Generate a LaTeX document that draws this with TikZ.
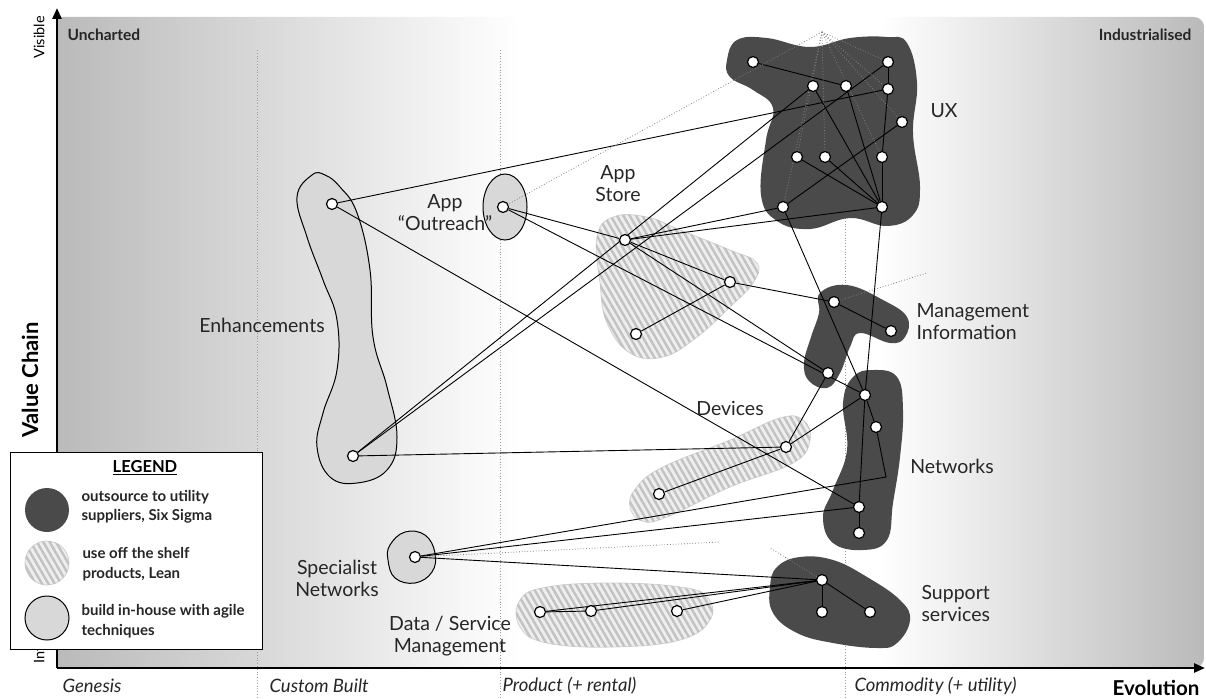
\documentclass[tikz,border=0pt]{standalone}
\usepackage{fontspec}
\setmainfont{Lato}
\usepackage{tikz}
\usetikzlibrary{arrows.meta, patterns.meta}
\definecolor{my_dark}{HTML}{4A4A4A}
\definecolor{my_build}{HTML}{D8D8D8}
\definecolor{my_hatchbg}{HTML}{EEEEEE}
\definecolor{my_hatch}{HTML}{C2C2C2}
\definecolor{my_hatchedge}{HTML}{D2D2D2}
\definecolor{my_shade}{HTML}{BABABA}
\definecolor{my_stage}{HTML}{9A9A9A}
\pgfdeclarelayer{bg}
\pgfdeclarelayer{links}
\pgfsetlayers{bg,links,main}

\begin{document}
\begin{tikzpicture}[
    x=1pt, y=-1pt,
    utility/.style={fill=my_dark},
    product/.style={fill=my_hatchbg, draw=my_hatchedge, line width=0.8pt,
        postaction={pattern={Lines[angle=-60, distance=5.5pt, line width=2.4pt]},
                    pattern color=my_hatch}},
    inhouse/.style={fill=my_build, draw=black, line width=1pt},
    dot/.style={circle, draw=black, fill=white, line width=1.2pt,
        inner sep=0pt, minimum size=11pt},
    link/.style={draw=black, line width=0.9pt},
    hint/.style={draw=gray, dotted, line width=0.8pt},
    stage/.style={draw=my_stage, dotted, line width=0.8pt},
    label_txt/.style={font=\fontsize{19.5}{22}\selectfont, align=center, text=black!85},
    stage_txt/.style={font=\fontsize{18.5}{20}\selectfont\itshape, text=black!85},
    corner_txt/.style={font=\fontsize{15.5}{18}\selectfont\bfseries, text=black!85},
    legend_txt/.style={font=\fontsize{15}{19.5}\selectfont\bfseries, align=left,
        anchor=west, text=black!85},
    axis/.style={line width=2.5pt, -{Triangle[length=11pt, width=9pt]}}
]
\useasboundingbox (0,0) rectangle (1206,698);

% ==========================================================
% Hintergrund: Verlauf links (Uncharted) und rechts (Industrialised)
% ==========================================================
\begin{pgfonlayer}{bg}
\begin{scope}
    \clip[rounded corners=10pt] (30,17) rectangle (1204,668);
    \shade[left color=my_shade, right color=white] (57,17) rectangle (520,668);
    \shade[left color=white, right color=my_shade] (880,17) rectangle (1204,668);
\end{scope}

% Phasengrenzen (gepunktet)
\foreach \sx in {257, 500, 845} {
    \draw[stage] (\sx,50) -- (\sx,698);
}

% ----------------------------------------------------------
% Komponenten-Flächen
% ----------------------------------------------------------
% UX
\fill[utility] plot[smooth cycle, tension=0.7] coordinates {
    (727,60) (737,40) (767,38) (810,47) (850,38) (887,37) (907,43)
    (917,83) (913,133) (920,187) (913,215) (887,226) (850,218) (810,229)
    (777,221) (761,195) (766,140) (773,108) (753,90) (730,77)};
% Management Information
\fill[utility] plot[smooth cycle, tension=0.7] coordinates {
    (820,293) (847,285) (883,300) (907,317) (905,337) (890,343) (860,333)
    (850,347) (840,373) (827,388) (809,381) (804,363) (811,337) (819,313)};
% Networks
\fill[utility] plot[smooth cycle, tension=0.7] coordinates {
    (873,370) (897,377) (903,410) (900,457) (893,503) (887,540) (863,550)
    (833,543) (823,517) (833,490) (847,450) (843,403) (853,377)};
% Support services
\fill[utility] plot[smooth cycle, tension=0.7] coordinates {
    (770,587) (777,567) (800,557) (833,560) (867,577) (900,600) (910,620)
    (897,643) (877,648) (833,643) (797,633) (773,613)};

% App Store
\path[product] plot[smooth cycle, tension=0.7] coordinates {
    (597,237) (613,217) (647,217) (680,230) (730,250) (757,263) (753,283)
    (730,307) (697,337) (663,357) (630,353) (607,323) (600,283)};
% Devices
\path[product] plot[smooth cycle, tension=0.7] coordinates {
    (630,507) (636,488) (663,467) (730,440) (780,418) (803,420) (810,440)
    (793,463) (730,487) (667,517) (642,521)};
% Data / Service Management
\path[product] plot[smooth cycle, tension=0.7] coordinates {
    (520,600) (547,587) (613,583) (680,587) (707,597) (710,620) (680,640)
    (613,647) (547,643) (520,627)};

% Enhancements
\path[inhouse] plot[smooth cycle, tension=0.7] coordinates {
    (312,175) (297,197) (307,237) (323,280) (337,320) (337,370) (323,413)
    (317,447) (330,477) (357,483) (387,470) (397,437) (387,387) (373,337)
    (370,270) (357,213) (340,187) (325,175)};
% App "Outreach"
\path[inhouse] (505,207) ellipse [x radius=22, y radius=33];
% Specialist Networks
\path[inhouse] plot[smooth cycle, tension=0.7] coordinates {
    (390,545) (405,532) (425,535) (435,553) (432,572) (415,583) (395,578)
    (388,560)};
\end{pgfonlayer}

% ==========================================================
% Knoten (Punkte)
% ==========================================================
\foreach \n/\px/\py in {e1/332/204, e2/353/456, ao/503/207,
    as1/625/240, as2/730/282, as3/636/334,
    u1/753/62, u2/888/62, u3/813/86, u4/846/86, u5/888/89, u6/902/122,
    u7/797/157, u8/825/157, u9/882/157, u10/783/207, u11/882/207,
    mi1/834/302, mi2/891/331, mi3/828/373,
    n1/865/395, n2/876/427, n3/859/507, n4/859/533,
    dv1/786/447, dv2/659/494, sp/415/557,
    d1/540/612, d2/591/611, d3/677/611,
    s1/822/580, s2/822/612, s3/870/612} {
    \node[dot] (\n) at (\px,\py) {};
}

% freie Enden
\coordinate (uxtop)   at (822,32);
\coordinate (milead)  at (927,273);
\coordinate (splead)  at (720,542);
\coordinate (sulead)  at (770,548);
\coordinate (netbend) at (886,477);

% ----------------------------------------------------------
% Verbindungen
% ----------------------------------------------------------
\begin{pgfonlayer}{links}
\foreach \a/\b in {e1/u5, e1/n3, e2/u3, e2/u2, e2/dv1,
    ao/as1, ao/n1, as1/as2, as1/u10, as1/u11, as1/mi3, as2/as3, as2/mi1,
    u1/u4, u2/u5, u5/u9, u9/u11, u3/u11, u4/u11, u7/u11, u8/u11,
    u6/u10, u10/n1, u11/n1, mi1/mi2, n1/n2, n1/n3, n3/n4,
    dv1/dv2, dv1/mi3, dv1/n1, sp/n3, sp/s1,
    d1/d2, d1/s1, d2/s1, d3/s1, s1/s2, s1/s3} {
    \draw[link] (\a) -- (\b);
}
\draw[link] (sp) -- (netbend) -- (n2);

% gepunktete Hinweise
\foreach \b in {ao, u10, u7, u8, u9, u6, u5, u2} {
    \draw[hint] (uxtop) -- (\b);
}
\draw[hint] (mi1) -- (milead);
\draw[hint] (sp) -- (splead);
\draw[hint] (s1) -- (sulead);
\end{pgfonlayer}

% ----------------------------------------------------------
% Beschriftungen der Komponenten
% ----------------------------------------------------------
\node[label_txt] (lbl_enh) at (262,325) {Enhancements};
\node[label_txt] (lbl_ao) at (445,213) {App\\“Outreach”};
\node[label_txt] (lbl_as) at (618,184) {App\\Store};
\node[label_txt] (lbl_ux) at (944,111) {UX};
\node[label_txt, align=left, anchor=west] (lbl_mi) at (913,322)
    {Management\\Information};
\node[label_txt] (lbl_net) at (952,466) {Networks};
\node[label_txt] (lbl_dev) at (730,408) {Devices};
\node[label_txt] (lbl_sp) at (337,578) {Specialist\\Networks};
\node[label_txt] (lbl_data) at (450,636) {Data / Service\\Management};
\node[label_txt, align=left, anchor=west] (lbl_sup) at (918,604)
    {Support\\services};

% ==========================================================
% Achsen
% ==========================================================
\coordinate (origin) at (57,668);
\coordinate (ytip)   at (57,8);
\coordinate (xtip)   at (1205,668);
\draw[axis] (origin) -- (ytip);
\draw[axis] (origin) -- (xtip);

\node[corner_txt, anchor=west] (unch) at (64,35) {Uncharted};
\node[corner_txt, anchor=east] (indu) at (1195,35) {Industrialised};
\node[font=\fontsize{14.5}{16}\selectfont, rotate=90, anchor=west] (vis)
    at (39,62) {Visible};
\node[font=\fontsize{14.5}{16}\selectfont, rotate=90, anchor=west] (invis)
    at (39,667) {Invisible};
\node[font=\fontsize{22}{24}\selectfont\bfseries, rotate=90] (vchain)
    at (30,380) {Value Chain};

\node[stage_txt, anchor=west] (st_gen)  at (59,686)  {Genesis};
\node[stage_txt, anchor=west] (st_cust) at (266,686) {Custom Built};
\node[stage_txt, anchor=west] (st_prod) at (499,686) {Product (+ rental)};
\node[stage_txt, anchor=west] (st_comm) at (851,686) {Commodity (+ utility)};
\node[font=\fontsize{20.5}{22}\selectfont\bfseries, anchor=east] (evo)
    at (1203,688) {Evolution};

% ==========================================================
% Legende
% ==========================================================
\node[draw=black, fill=white, line width=1pt, minimum width=252,
    minimum height=197, inner sep=0pt] (legend) at (136,551) {};
\node[font=\fontsize{16.5}{18}\selectfont\bfseries] (lg_title) at (145,468)
    {\underline{LEGEND}};
\node[utility, circle, minimum size=44, inner sep=0pt] (lg_out) at (47,510) {};
\node[product, circle, minimum size=44, inner sep=0pt] (lg_off) at (47,563) {};
\node[inhouse, circle, minimum size=44, inner sep=0pt] (lg_in) at (47,618) {};
\node[legend_txt] (lgt_out) at (78,507) {outsource to utility\\suppliers, Six Sigma};
\node[legend_txt] (lgt_off) at (79,564) {use off the shelf\\products, Lean};
\node[legend_txt] (lgt_in) at (78,621) {build in-house with agile\\techniques};

\end{tikzpicture}
\end{document}
